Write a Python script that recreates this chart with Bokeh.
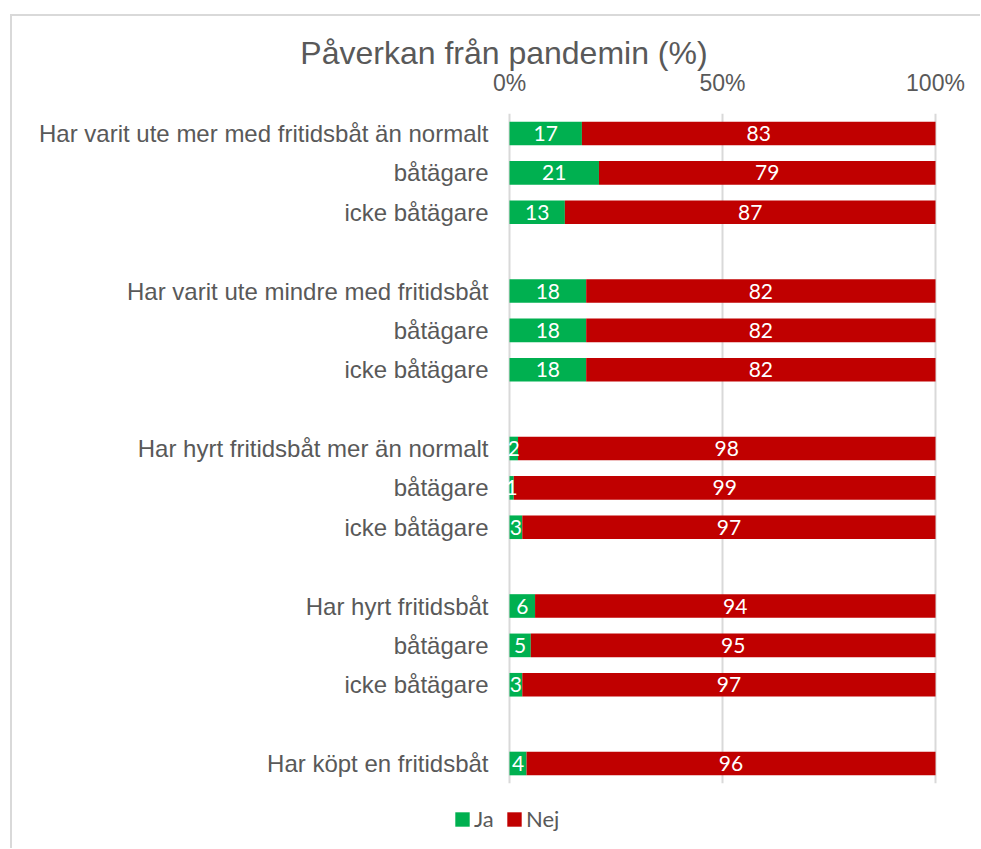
from bokeh.plotting import figure
from bokeh.models import ColumnDataSource, Range1d, FixedTicker, Legend, LegendItem, Label
from bokeh.core.properties import value
from bokeh.embed import file_html
from bokeh.resources import INLINE

title_text = "Påverkan från pandemin (%)"
categories = [
    "Har varit ute mer med fritidsbåt än normalt", "båtägare", "icke båtägare",
    "Har varit ute mindre med fritidsbåt", "båtägare", "icke båtägare",
    "Har hyrt fritidsbåt mer än normalt", "båtägare", "icke båtägare",
    "Har hyrt fritidsbåt", "båtägare", "icke båtägare",
    "Har köpt en fritidsbåt",
]
ja = [17, 21, 13, 18, 18, 18, 2, 1, 3, 6, 5, 3, 4]
nej = [83, 79, 87, 82, 82, 82, 98, 99, 97, 94, 95, 97, 96]
series_names = ["Ja", "Nej"]
x_ticks = [0, 50, 100]
x_tick_labels = ["0%", "50%", "100%"]
group_size = 3

GREEN = "#00B050"
RED = "#C00000"
GRAY = "#595959"
GRID = "#d9d9d9"

ypos = [i + i // group_size for i in range(len(categories))]
n_slots = ypos[-1] + 1

# ---- layout (pixels on the canvas) ----
W, H = 968, 832
X0_PX, X100_PX = 497, 923          # where 0 % and 100 % fall
ROW0_PX, ROW_STEP = 117, 39.375     # centre of first row, row pitch
px_per_pct = (X100_PX - X0_PX) / 100.0
x_start = -X0_PX / px_per_pct
x_end = 100 + (W - X100_PX) / px_per_pct
y_top = -ROW0_PX / ROW_STEP
y_bottom = (H - ROW0_PX) / ROW_STEP

src = ColumnDataSource(dict(
    y=ypos, ja=ja, nej=nej,
    ja_mid=[a / 2 for a in ja],
    nej_mid=[a + b / 2 for a, b in zip(ja, nej)],
    ja_txt=[str(a) for a in ja],
    nej_txt=[str(b) for b in nej],
))

p = figure(frame_width=W, frame_height=H, output_backend="svg", toolbar_location=None,
           x_range=Range1d(x_start, x_end), y_range=Range1d(y_bottom, y_top),
           x_axis_location="above",
           min_border_left=0, min_border_right=0, min_border_top=0, min_border_bottom=0)
p.margin = (14, 0, 0, 10)
p.styles = {"border-top": "2px solid #d9d9d9", "border-left": "2px solid #d9d9d9"}
p.outline_line_color = None
p.background_fill_color = "white"
p.border_fill_color = "white"
p.title.visible = False

# grid lines limited to the bar area
p.segment(x0=x_ticks, x1=x_ticks, y0=[-0.5] * len(x_ticks), y1=[n_slots - 0.5] * len(x_ticks),
          line_color=GRID, line_width=2)

rs = p.hbar_stack(["ja", "nej"], y="y", height=0.6, color=[GREEN, RED], line_color=None, source=src)

common = dict(text_color="white", text_font=value("Lato"), text_font_size="21px",
              text_align="center", text_baseline="middle")
p.text(x="ja_mid", y="y", text="ja_txt", source=src, **common)
p.text(x="nej_mid", y="y", text="nej_txt", source=src, **common)

p.xaxis.ticker = FixedTicker(ticks=x_ticks)
p.xaxis.major_label_overrides = {t: l for t, l in zip(x_ticks, x_tick_labels)}
p.xaxis.fixed_location = -0.5
p.yaxis.ticker = FixedTicker(ticks=ypos)
p.yaxis.major_label_overrides = {y: c for y, c in zip(ypos, categories)}
p.yaxis.fixed_location = 0
for ax in (p.xaxis, p.yaxis):
    ax.axis_line_color = None
    ax.major_tick_line_color = None
    ax.minor_tick_line_color = None
    ax.major_label_text_color = GRAY
    ax.major_label_text_font = "Liberation Sans"
p.yaxis.major_label_standoff = 15
p.xaxis.major_label_standoff = 12
p.yaxis.major_label_text_font_size = "24px"
p.xaxis.major_label_text_font_size = "23px"

p.xgrid.grid_line_color = None
p.ygrid.grid_line_color = None

p.add_layout(Label(x=-1.3, y=-2.05, text=title_text, text_align="center", text_baseline="middle",
                   text_font="Liberation Sans", text_font_size="32px", text_color=GRAY))

legend = Legend(items=[LegendItem(label=n, renderers=[r]) for n, r in zip(series_names, rs)],
                location=(441, 16), orientation="horizontal",
                glyph_width=18, glyph_height=18, label_standoff=3, spacing=11,
                padding=0, margin=0, border_line_color=None, background_fill_alpha=0,
                label_text_font="Lato", label_text_font_size="22px", label_text_color=GRAY)
p.add_layout(legend)

open("out.html", "w").write(file_html(p, INLINE))
